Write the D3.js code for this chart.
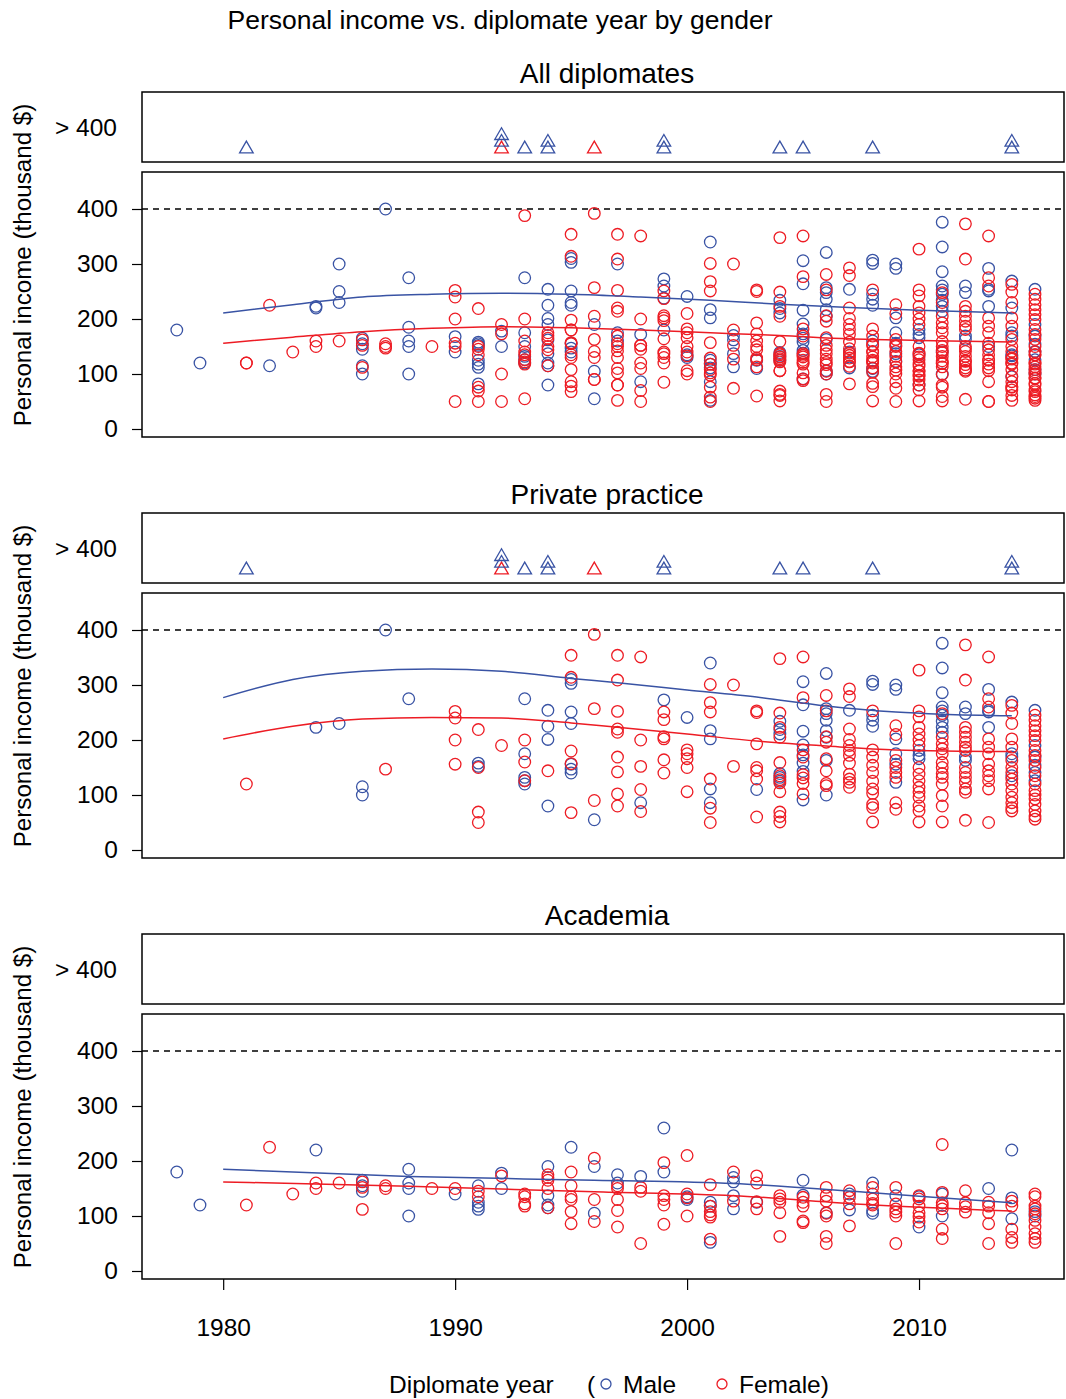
<!DOCTYPE html>
<html>
<head>
<meta charset="utf-8">
<script src="https://cdn.jsdelivr.net/npm/d3@7"></script>
<style>
  body { margin: 0; background: #fff; }
  svg { display: block; font-family: "Liberation Sans", Arial, Helvetica, sans-serif; }
</style>
</head>
<body>
<svg id="chart" width="1066" height="1399"></svg>
<script>
// ---- data: [diplomate year, [incomes in thousand $]] ----
const privateMale = [
  [1984, [223]], [1985, [230]], [1986, [115, 100]], [1987, [400]], [1988, [275]],
  [1991, [158, 152]], [1993, [275, 175, 132, 126, 120]], [1994, [254, 225, 201, 80]],
  [1995, [310, 303, 251, 230, 156, 147, 140]], [1996, [55]], [1998, [86]], [1999, [273]],
  [2000, [241]], [2001, [340, 217, 202, 111, 86]], [2003, [110]],
  [2004, [234, 219, 211, 139, 132, 125]], [2005, [306, 264, 216, 191, 173, 158, 143, 91]],
  [2006, [321, 257, 248, 236, 217, 205, 163, 100]], [2007, [254]],
  [2008, [307, 301, 245, 236, 225]], [2009, [300, 292, 202, 175, 156, 123]],
  [2010, [181, 172, 166]], [2011, [376, 331, 286, 260, 253, 245, 234, 223, 214]],
  [2012, [260, 248, 169, 163]], [2013, [292, 254, 251, 223]], [2014, [269, 175, 169, 135]],
  [2015, [254, 190, 169, 154, 141, 126]]
];
const privateFemale = [
  [1981, [120]], [1987, [147]], [1990, [252, 240, 200, 156]], [1991, [219, 150, 69, 50]],
  [1992, [190]], [1993, [200, 160, 126]], [1994, [144]], [1995, [354, 314, 180, 157, 68]],
  [1996, [392, 257, 90]], [1997, [354, 309, 252, 220, 214, 169, 142, 102, 80]],
  [1998, [351, 200, 152, 110, 70]], [1999, [251, 237, 206, 202, 164, 140]],
  [2000, [182, 175, 166, 150, 106]], [2001, [301, 268, 251, 129, 76, 50]], [2002, [300, 152]],
  [2003, [253, 250, 193, 150, 144, 129, 60]],
  [2004, [348, 249, 223, 205, 159, 135, 128, 122, 106, 69, 61, 51]],
  [2005, [351, 277, 182, 169, 137, 131, 121, 102]],
  [2006, [281, 253, 206, 196, 166, 144, 121, 117]],
  [2007, [293, 279, 220, 201, 190, 181, 172, 158, 138, 129, 123, 114]],
  [2008, [253, 182, 169, 154, 141, 125, 111, 103, 83, 77, 51]],
  [2009, [226, 210, 163, 150, 141, 132, 86, 74]],
  [2010, [327, 253, 242, 223, 211, 200, 190, 150, 138, 126, 114, 105, 96, 80, 71, 51]],
  [2011, [248, 205, 193, 184, 175, 159, 150, 139, 132, 120, 99, 80, 51]],
  [2012, [373, 309, 223, 214, 205, 196, 187, 181, 150, 141, 132, 123, 111, 105, 54]],
  [2013, [351, 275, 260, 202, 187, 175, 156, 144, 135, 126, 111, 50]],
  [2014, [263, 249, 230, 202, 187, 163, 150, 141, 129, 120, 108, 96, 86, 77, 71]],
  [2015, [245, 236, 226, 217, 208, 199, 181, 172, 163, 150, 135, 120, 108, 100, 93, 83, 71, 62, 56]]
];
const academiaMale = [
  [1978, [180]], [1979, [120]], [1984, [220]], [1986, [165, 155, 145]],
  [1988, [185, 160, 150, 100]], [1990, [140]], [1991, [155, 125, 118, 112]],
  [1992, [178, 150]], [1994, [190, 137, 120, 115]], [1995, [225]], [1996, [190, 105]],
  [1997, [175, 160]], [1998, [172]], [1999, [260, 180]], [2000, [135, 130]],
  [2001, [125, 118, 52]], [2002, [170, 162, 137, 113]], [2003, [125]], [2005, [165, 138]],
  [2006, [106]], [2007, [140, 111]], [2008, [160, 110, 105]], [2009, [137]],
  [2010, [135, 80]], [2011, [140, 100]], [2013, [150]], [2014, [220, 133, 95]],
  [2015, [108, 100]]
];
const academiaFemale = [
  [1981, [120]], [1982, [225]], [1983, [140]], [1984, [160, 150]], [1985, [160]],
  [1986, [162, 152, 112]], [1987, [155, 150]], [1989, [150]], [1990, [150]],
  [1991, [145, 135]], [1992, [173]], [1993, [140, 135, 122, 118]],
  [1994, [175, 170, 165, 150, 115]], [1995, [180, 155, 135, 130, 108, 86]],
  [1996, [205, 130, 90]], [1997, [155, 150, 130, 110, 80]], [1998, [152, 145, 50]],
  [1999, [197, 137, 130, 120, 85]], [2000, [210, 140, 133, 100]],
  [2001, [157, 118, 108, 102, 98, 58]], [2002, [180, 127]], [2003, [173, 160, 126, 113]],
  [2004, [137, 131, 125, 106, 63]], [2005, [134, 125, 118, 91, 88]],
  [2006, [152, 137, 127, 105, 100, 63, 50]], [2007, [146, 134, 122, 82]],
  [2008, [152, 140, 131, 123, 120]], [2009, [152, 122, 113, 107, 100, 50]],
  [2010, [137, 131, 118, 106, 98, 89]], [2011, [230, 143, 124, 119, 113, 76, 59]],
  [2012, [146, 124, 117, 107]], [2013, [125, 118, 106, 86, 50]],
  [2014, [127, 118, 76, 61, 52]], [2015, [140, 135, 118, 113, 104, 92, 80, 68, 59, 52]]
];
// diplomates in neither private practice nor academia (only in "All")
const otherMale = [
  [1982, [115]], [1985, [300, 250]], [1990, [168]], [1991, [82]], [1993, [150]],
  [1994, [162]], [1997, [300]], [1999, [238]]
];
const otherFemale = [
  [1990, [50]], [1991, [76]], [1992, [100, 50]], [1993, [388, 55]], [1995, [198, 78]],
  [1996, [163, 141]], [1997, [52]], [1998, [120]], [2002, [74]]
];
// incomes above 400 (years only), private practice
const over400Male = [1981, 1992, 1992, 1993, 1994, 1994, 1999, 1999, 2004, 2005, 2008, 2014, 2014];
const over400Female = [1992, 1996];

// smoothed trends: [year, income]
const trendAllMale = [[1980, 211], [1983, 226], [1986, 240], [1989, 245], [1992, 247], [1995, 245], [1998, 240], [2001, 234], [2004, 227], [2007, 221], [2010, 216], [2014, 211]];
const trendAllFemale = [[1980, 156], [1983, 167], [1986, 177], [1989, 183], [1992, 186], [1995, 184], [1998, 180], [2001, 175], [2004, 170], [2007, 164], [2010, 161], [2014, 158]];
const trendPrivateMale = [[1980, 277], [1983, 310], [1986, 325], [1989, 329], [1992, 325], [1995, 312], [1997, 304], [2000, 291], [2003, 278], [2006, 262], [2009, 251], [2011, 247], [2014, 244]];
const trendPrivateFemale = [[1980, 202], [1983, 225], [1986, 238], [1989, 241], [1992, 240], [1995, 231], [1997, 223], [2000, 211], [2003, 198], [2006, 189], [2009, 182], [2014, 179]];
const trendAcademiaMale = [[1980, 185], [1988, 172], [1996, 165], [2002, 159], [2007.7, 143], [2010.6, 134], [2014, 124]];
const trendAcademiaFemale = [[1980, 162], [1988, 154], [1996, 144], [2002, 137], [2007.7, 121], [2014, 109]];

const yTicks = [0, 100, 200, 300, 400];
const xTicks = [1980, 1990, 2000, 2010];

// ---- drawing ----
const maleColor = "#3953a4", femaleColor = "#ed1c24";
const plotLeft = 142, plotRight = 1064;
const fontSize = 24.5;

const svg = d3.select("#chart");
const x = d3.scaleLinear().domain([1976.5, 2016.25]).range([plotLeft, plotRight]);

function expand(rows) {
  return rows.flatMap(([yr, vals]) => vals.map(v => ({ year: yr, value: v })));
}

const panels = [
  { title: "All diplomates", top: 92,
    male: expand([...privateMale, ...academiaMale, ...otherMale]),
    female: expand([...privateFemale, ...academiaFemale, ...otherFemale]),
    overMale: over400Male, overFemale: over400Female,
    trendMale: trendAllMale, trendFemale: trendAllFemale },
  { title: "Private practice", top: 513,
    male: expand(privateMale), female: expand(privateFemale),
    overMale: over400Male, overFemale: over400Female,
    trendMale: trendPrivateMale, trendFemale: trendPrivateFemale },
  { title: "Academia", top: 934,
    male: expand(academiaMale), female: expand(academiaFemale),
    overMale: [], overFemale: [],
    trendMale: trendAcademiaMale, trendFemale: trendAcademiaFemale }
];

svg.append("text")
  .attr("x", 500).attr("y", 29)
  .attr("text-anchor", "middle")
  .attr("font-size", 26.5)
  .text("Personal income vs. diplomate year by gender");

const triangle = d3.symbol().type(d3.symbolTriangle).size(80);

panels.forEach((p, i) => {
  const g = svg.append("g");
  const stripTop = p.top, stripH = 70;
  const mainTop = p.top + 80, mainH = 265;
  const y = d3.scaleLinear().domain([0, 400]).range([p.top + 337, p.top + 117]);

  // panel title
  g.append("text")
    .attr("x", 607).attr("y", p.top - 9)
    .attr("text-anchor", "middle")
    .attr("font-size", 28)
    .text(p.title);

  // y-axis title (centred on the strip + main block)
  g.append("text")
    .attr("transform", `translate(31,${p.top + 173}) rotate(-90)`)
    .attr("text-anchor", "middle")
    .attr("font-size", 24.2)
    .text("Personal income (thousand $)");

  // strip for values > 400
  g.append("text")
    .attr("x", 117).attr("y", stripTop + 35)
    .attr("dy", "0.35em")
    .attr("text-anchor", "end")
    .attr("font-size", fontSize)
    .text("> 400");

  const counts = {};
  const stacked = [];
  p.overFemale.forEach(yr => { const k = counts[yr] || 0; counts[yr] = k + 1; stacked.push({ year: yr, k, color: femaleColor }); });
  p.overMale.forEach(yr => { const k = counts[yr] || 0; counts[yr] = k + 1; stacked.push({ year: yr, k, color: maleColor }); });

  g.selectAll(".tri")
    .data(stacked)
    .enter().append("path")
    .attr("d", triangle)
    .attr("transform", d => `translate(${x(d.year)},${stripTop + 57 - d.k * 6.7})`)
    .attr("fill", "none")
    .attr("stroke", d => d.color)
    .attr("stroke-width", 1.3);

  g.append("rect")
    .attr("x", plotLeft).attr("y", stripTop)
    .attr("width", plotRight - plotLeft).attr("height", stripH)
    .attr("fill", "none").attr("stroke", "#000").attr("stroke-width", 1.5);

  // main plot
  const axis = g.append("g")
    .attr("transform", `translate(${plotLeft},0)`)
    .call(d3.axisLeft(y).tickValues(yTicks).tickSize(10).tickPadding(14));
  axis.select(".domain").remove();
  axis.selectAll("text").attr("font-size", fontSize).attr("fill", "#000")
    .attr("font-family", "\"Liberation Sans\", Arial, sans-serif");
  axis.selectAll("line").attr("stroke", "#000").attr("stroke-width", 1.2);

  g.append("line")
    .attr("x1", plotLeft).attr("x2", plotRight)
    .attr("y1", y(400)).attr("y2", y(400))
    .attr("stroke", "#000").attr("stroke-width", 1.3)
    .attr("stroke-dasharray", "6,5");

  g.selectAll(".m")
    .data(p.male)
    .enter().append("circle")
    .attr("cx", d => x(d.year)).attr("cy", d => y(d.value))
    .attr("r", 5.8)
    .attr("fill", "none").attr("stroke", maleColor).attr("stroke-width", 1.3);

  g.selectAll(".f")
    .data(p.female)
    .enter().append("circle")
    .attr("cx", d => x(d.year)).attr("cy", d => y(d.value))
    .attr("r", 5.8)
    .attr("fill", "none").attr("stroke", femaleColor).attr("stroke-width", 1.3);

  const line = d3.line()
    .x(d => x(d[0])).y(d => y(d[1]))
    .curve(d3.curveMonotoneX);

  g.append("path").attr("d", line(p.trendMale))
    .attr("fill", "none").attr("stroke", maleColor).attr("stroke-width", 1.5);
  g.append("path").attr("d", line(p.trendFemale))
    .attr("fill", "none").attr("stroke", femaleColor).attr("stroke-width", 1.5);

  g.append("rect")
    .attr("x", plotLeft).attr("y", mainTop)
    .attr("width", plotRight - plotLeft).attr("height", mainH)
    .attr("fill", "none").attr("stroke", "#000").attr("stroke-width", 1.5);

  if (i === panels.length - 1) {
    const xAxis = g.append("g")
      .attr("transform", `translate(0,${mainTop + mainH})`)
      .call(d3.axisBottom(x).tickValues(xTicks).tickFormat(d3.format("d")).tickSize(11).tickPadding(29));
    xAxis.select(".domain").remove();
    xAxis.selectAll("text").attr("font-size", fontSize).attr("fill", "#000")
      .attr("font-family", "\"Liberation Sans\", Arial, sans-serif");
    xAxis.selectAll("line").attr("stroke", "#000").attr("stroke-width", 1.2);
  }
});

// x-axis title with inline legend
const legendY = 1393;
svg.append("text").attr("x", 389).attr("y", legendY).attr("font-size", fontSize).text("Diplomate year");
svg.append("text").attr("x", 587).attr("y", legendY).attr("font-size", fontSize).text("(");
svg.append("circle").attr("cx", 606).attr("cy", legendY - 9).attr("r", 5)
  .attr("fill", "none").attr("stroke", maleColor).attr("stroke-width", 1.3);
svg.append("text").attr("x", 623).attr("y", legendY).attr("font-size", fontSize).text("Male");
svg.append("circle").attr("cx", 722).attr("cy", legendY - 9).attr("r", 5)
  .attr("fill", "none").attr("stroke", femaleColor).attr("stroke-width", 1.3);
svg.append("text").attr("x", 739).attr("y", legendY).attr("font-size", fontSize).text("Female)");
</script>
</body>
</html>
